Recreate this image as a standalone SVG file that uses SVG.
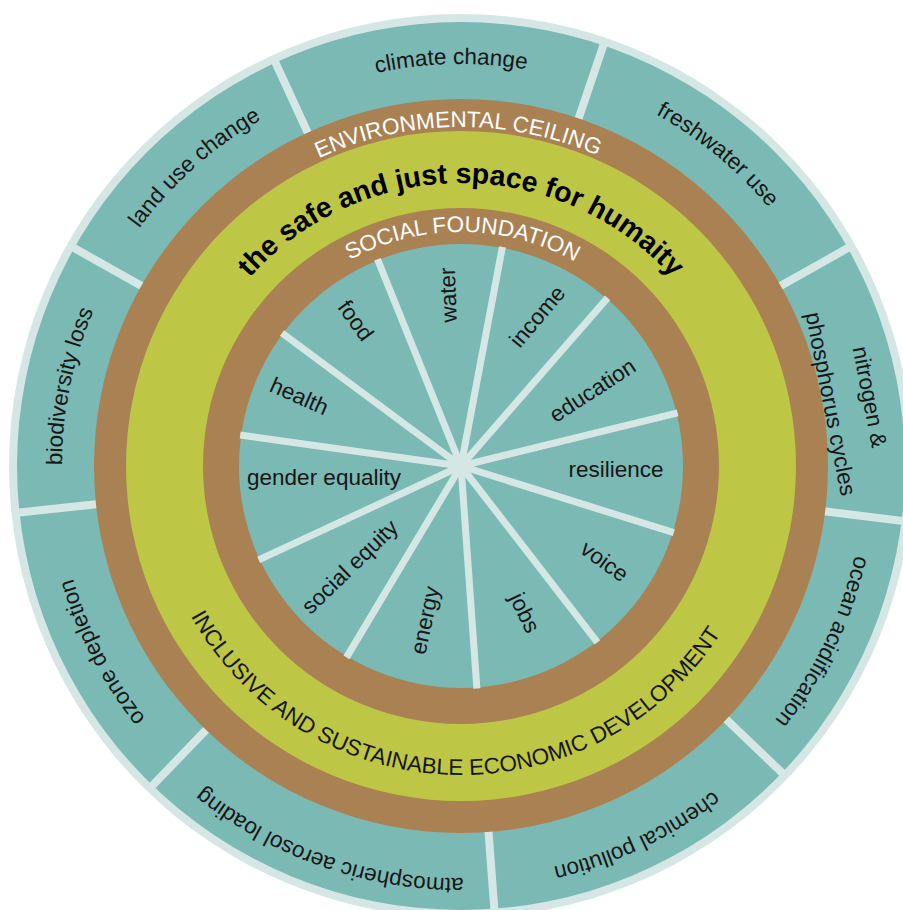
<svg xmlns="http://www.w3.org/2000/svg" width="903" height="910" viewBox="0 0 903 910">
<defs>
<style>
.lbl{font-family:"Liberation Sans",Arial,sans-serif;font-size:22.5px;fill:#161616}
.wht{font-family:"Liberation Sans",Arial,sans-serif;font-size:22.5px;fill:#ffffff}
.bold{font-family:"Liberation Sans",Arial,sans-serif;font-size:28.5px;font-weight:700;fill:#000000}
.sep{stroke:#d5e7e5;stroke-width:8}
.spoke{stroke:#d5e7e5;stroke-width:7}
.teal{fill:#7bb9b5}
.brown{fill:#a98152}
</style>
<path id="p-env" d="M126.6,410.1 A339,339 0 0 1 794.3,404.2"/>
<path id="p-safe" d="M182.3,416.9 A283,283 0 0 1 739.7,416.9"/>
<path id="p-soc" d="M230.8,423.8 A234,234 0 0 1 691.7,427.0"/>
<path id="p-inc" d="M155.1,509.8 A309,309 0 0 0 763.4,529.4"/>
<path id="p-clim" d="M80.0,337.8 A402,402 0 0 1 835.3,319.3"/>
<path id="p-land" d="M89.5,614.2 A400,400 0 0 1 650.3,113.6"/>
<path id="p-fresh" d="M257.0,119.6 A402,402 0 0 1 839.9,600.2"/>
<path id="p-ocean" d="M751.1,184.9 A404,404 0 0 1 419.5,867.9"/>
<path id="p-chem" d="M870.2,427.3 A411,411 0 0 1 172.4,758.6"/>
<path id="p-atmo" d="M780.3,726.4 A412,412 0 0 1 49.0,471.8"/>
<path id="p-ozone" d="M513.0,866.6 A404,404 0 0 1 163.6,192.5"/>
<path id="p-bio" d="M252.5,806.2 A399,399 0 0 1 402.0,71.4"/>
</defs>
<rect width="903" height="910" fill="#ffffff"/>
<g id="outer-ring">
<circle cx="461" cy="466" r="452" fill="#d5e7e5"/>
<circle cx="461" cy="466" r="444" class="teal"/>
</g>
<g id="connectors">
<g id="outer-separators">
<line class="sep" x1="576.4" y1="125.0" x2="604.9" y2="40.7"/>
<line class="sep" x1="774.6" y1="289.3" x2="852.2" y2="245.6"/>
<line class="sep" x1="818.2" y1="510.5" x2="906.5" y2="521.5"/>
<line class="sep" x1="721.3" y1="714.7" x2="785.6" y2="776.2"/>
<line class="sep" x1="488.0" y1="825.0" x2="494.7" y2="913.7"/>
<line class="sep" x1="210.9" y1="724.9" x2="149.1" y2="789.0"/>
<line class="sep" x1="103.0" y1="503.6" x2="14.5" y2="512.9"/>
<line class="sep" x1="147.4" y1="289.3" x2="69.8" y2="245.6"/>
<line class="sep" x1="310.6" y1="138.9" x2="273.4" y2="58.1"/>
</g>
</g>
<g id="environmental-ceiling">
<circle cx="461" cy="466" r="367" class="brown"/>
</g>
<g id="safe-just-space">
<circle cx="461" cy="466" r="335" fill="#bec645"/>
</g>
<g id="social-foundation">
<circle cx="461" cy="466" r="258" class="brown"/>
</g>
<g id="inner-core">
<circle cx="461" cy="466" r="222" class="teal"/>
</g>
<g id="inner-spokes">
<line class="spoke" x1="461" y1="466" x2="282.0" y2="333.0"/>
<line class="spoke" x1="461" y1="466" x2="377.5" y2="259.2"/>
<line class="spoke" x1="461" y1="466" x2="502.4" y2="246.9"/>
<line class="spoke" x1="461" y1="466" x2="607.6" y2="297.9"/>
<line class="spoke" x1="461" y1="466" x2="677.6" y2="412.8"/>
<line class="spoke" x1="461" y1="466" x2="673.8" y2="532.7"/>
<line class="spoke" x1="461" y1="466" x2="597.4" y2="642.4"/>
<line class="spoke" x1="461" y1="466" x2="476.9" y2="688.4"/>
<line class="spoke" x1="461" y1="466" x2="346.5" y2="657.4"/>
<line class="spoke" x1="461" y1="466" x2="258.7" y2="559.9"/>
<line class="spoke" x1="461" y1="466" x2="240.2" y2="435.0"/>
<circle cx="461" cy="466" r="7" fill="#d5e7e5"/>
</g>
<g id="ring-labels">
<text class="wht"><textPath href="#p-env" startOffset="50%" text-anchor="middle">ENVIRONMENTAL CEILING</textPath></text>
<text class="bold"><textPath href="#p-safe" startOffset="50%" text-anchor="middle">the safe and just space for humaity</textPath></text>
<text class="wht"><textPath href="#p-soc" startOffset="50%" text-anchor="middle">SOCIAL FOUNDATION</textPath></text>
<text class="lbl"><textPath href="#p-inc" startOffset="50%" text-anchor="middle">INCLUSIVE AND SUSTAINABLE ECONOMIC DEVELOPMENT</textPath></text>
</g>
<g id="outer-labels">
<g id="climate-change"><text class="lbl"><textPath href="#p-clim" startOffset="50%" text-anchor="middle">climate change</textPath></text></g>
<g id="freshwater-use"><text class="lbl"><textPath href="#p-fresh" startOffset="50%" text-anchor="middle">freshwater use</textPath></text></g>
<g id="nitrogen-phosphorus">
<text class="lbl" transform="translate(869,397) rotate(79)" text-anchor="middle" dy="0.3em">nitrogen &amp;</text>
<text class="lbl" transform="translate(830,404) rotate(79)" text-anchor="middle" dy="0.3em">phosphorus cycles</text>
</g>
<g id="ocean-acidification"><text class="lbl"><textPath href="#p-ocean" startOffset="50%" text-anchor="middle">ocean acidification</textPath></text></g>
<g id="chemical-pollution"><text class="lbl"><textPath href="#p-chem" startOffset="50%" text-anchor="middle">chemical pollution</textPath></text></g>
<g id="atmospheric-aerosol"><text class="lbl"><textPath href="#p-atmo" startOffset="50%" text-anchor="middle">atmospheric aerosol loading</textPath></text></g>
<g id="ozone-depletion"><text class="lbl"><textPath href="#p-ozone" startOffset="50%" text-anchor="middle">ozone depletion</textPath></text></g>
<g id="biodiversity-loss"><text class="lbl"><textPath href="#p-bio" startOffset="50%" text-anchor="middle">biodiversity loss</textPath></text></g>
<g id="land-use-change"><text class="lbl"><textPath href="#p-land" startOffset="50%" text-anchor="middle">land use change</textPath></text></g>
</g>
<g id="inner-labels">
<g id="health"><text class="lbl" transform="translate(299,397) rotate(24)" text-anchor="middle" dy="0.3em">health</text></g>
<g id="food"><text class="lbl" transform="translate(355,321) rotate(54)" text-anchor="middle" dy="0.3em">food</text></g>
<g id="water"><text class="lbl" transform="translate(449,295) rotate(-92)" text-anchor="middle" dy="0.3em">water</text></g>
<g id="income"><text class="lbl" transform="translate(538,317) rotate(-50)" text-anchor="middle" dy="0.3em">income</text></g>
<g id="education"><text class="lbl" transform="translate(593,391) rotate(-33)" text-anchor="middle" dy="0.3em">education</text></g>
<g id="resilience"><text class="lbl" x="616" y="477" text-anchor="middle">resilience</text></g>
<g id="voice"><text class="lbl" transform="translate(604,562) rotate(36)" text-anchor="middle" dy="0.3em">voice</text></g>
<g id="jobs"><text class="lbl" transform="translate(522,614) rotate(64)" text-anchor="middle" dy="0.2em">jobs</text></g>
<g id="energy"><text class="lbl" transform="translate(428,621) rotate(-78)" text-anchor="middle" dy="0.2em">energy</text></g>
<g id="social-equity"><text class="lbl" transform="translate(352,569) rotate(-44)" text-anchor="middle" dy="0.2em">social equity</text></g>
<g id="gender-equality"><text class="lbl" x="324" y="485" text-anchor="middle">gender equality</text></g>
</g>
</svg>
